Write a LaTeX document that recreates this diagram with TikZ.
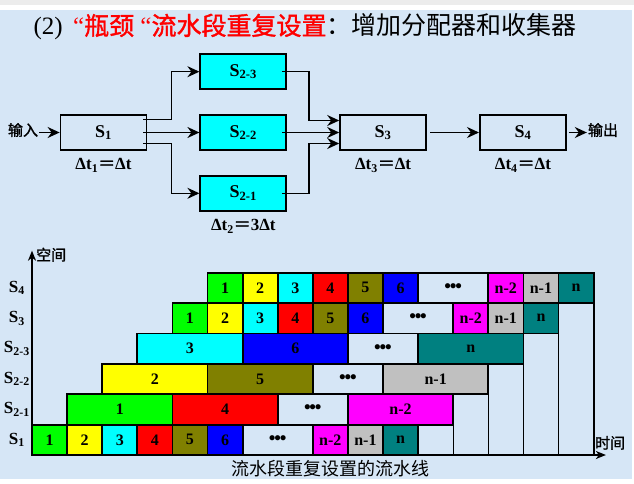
\documentclass[tikz,border=0pt]{standalone}
\usepackage{xcolor}
\usepackage{tikz}
\usepackage{amsmath}
\usepackage{fontspec}
\setmainfont{Liberation Serif}
\newfontfamily\cjk[AutoFakeBold=1.5]{Noto Sans CJK SC}
\usetikzlibrary{positioning, arrows.meta}

\definecolor{bgblue}{RGB}{214,230,246}
\definecolor{bgtop}{RGB}{236,236,236}
\definecolor{greenbox}{RGB}{0,255,0}
\definecolor{yellowbox}{RGB}{255,255,0}
\definecolor{cyanbox}{RGB}{0,255,255}
\definecolor{redbox}{RGB}{255,0,0}
\definecolor{olivebox}{RGB}{128,128,0}
\definecolor{bluebox}{RGB}{0,0,255}
\definecolor{magentabox}{RGB}{255,0,255}
\definecolor{graybox}{RGB}{192,192,192}
\definecolor{tealbox}{RGB}{0,128,128}
\definecolor{titlered}{RGB}{255,0,0}

\newcommand{\seg}[1]{\textbf{S}$_{\textbf{#1}}$}
\newcommand{\dt}[2]{\textbf{Δt$_{\textbf{#1}}${\cjk ＝}#2Δt}}
\newcommand{\more}{{\fontsize{19}{19}\selectfont\textbf{•\kern-1.2pt•\kern-1.2pt•}}}

\begin{document}
\begin{tikzpicture}[
    x=1pt, y=-1pt,
    stage/.style={draw, line width=1.8pt, minimum width=86pt, minimum height=35pt,
      inner sep=0pt, font=\fontsize{18}{18}\selectfont},
    dup/.style={stage, fill=cyanbox},
    flow/.style={line width=1.6pt, -{Stealth[length=12pt, width=11pt, inset=4pt]}},
    dtlabel/.style={below=4pt, font=\fontsize{17}{17}\selectfont},
    cjklabel/.style={inner sep=1pt, font=\cjk\bfseries\fontsize{15}{15}\selectfont},
    cell/.style={draw, line width=1.8pt},
    num/.style={font=\bfseries\fontsize{16}{16}\selectfont},
    tline/.style={line width=0.8pt},
    axis/.style={line width=1.6pt, -{Stealth[length=10pt, width=8pt, inset=3pt]}},
    rowlabel/.style={font=\fontsize{17}{17}\selectfont},
    node distance=24pt and 52pt,
  ]
  \useasboundingbox (0,0) rectangle (634,484);
  \fill[white] (0,0) rectangle (634,484);
  \fill[bgtop] (0,0) rectangle (634,5);
  \fill[bgblue] (0,10) rectangle (632,479);

  \node[anchor=west, font=\fontsize{25}{25}\selectfont] (title) at (30,27)
    {(2)\, \textcolor{titlered}{“{\cjk\bfseries 瓶颈} “{\cjk\bfseries 流水段重复设置}}{\cjk ：增加分配器和收集器}};

  % pipeline with the bottleneck stage repeated
  \node[stage] (S1) at (103.5,132.5) {\seg{1}};
  \node[dup, right=of S1] (S22) {\seg{2-2}};
  \node[dup, above=of S22] (S23) {\seg{2-3}};
  \node[dup, below=of S22] (S21) {\seg{2-1}};
  \node[stage, right=of S22] (S3) {\seg{3}};
  \node[stage, right=of S3] (S4) {\seg{4}};

  \node[dtlabel] (d1) at (S1.south) {\dt{1}{}};
  \node[dtlabel] (d2) at (S21.south) {\dt{2}{3}};
  \node[dtlabel] (d3) at (S3.south) {\dt{3}{}};
  \node[dtlabel] (d4) at (S4.south) {\dt{4}{}};

  \node[cjklabel] (in) at (23,130) {输入};
  \node[cjklabel] (out) at (603,130) {输出};

  \draw[flow] (in.east |- S1.west) -- (S1.west);
  \draw[flow] ([xshift=-4pt,yshift=13pt]S1.east) -- ++(28pt,0) |- (S23.west);
  \draw[flow] ([xshift=-4pt]S1.east) -- (S22.west);
  \draw[flow] ([xshift=-4pt,yshift=-11pt]S1.east) -- ++(28pt,0) |- (S21.west);
  \draw[flow] ([xshift=-5pt]S23.east) -- ++(27pt,0) |- ([yshift=12pt]S3.west);
  \draw[flow] ([xshift=-5pt]S22.east) -- (S3.west);
  \draw[flow] ([xshift=-5pt]S21.east) -- ++(27pt,0) |- ([yshift=-11pt]S3.west);
  \draw[flow] ([xshift=3pt]S3.east) -- (S4.west);
  \draw[flow] ([xshift=2pt]S4.east) -- (out.west |- S4.east);

  % space-time chart
  \begin{scope}[shift={(32,455)}, x=35.1pt, y=30.4pt]
    \foreach \c/\h in {12/1, 13/2, 14/3, 15/4}
      \draw[tline] (\c,0) -- (\c,\h);
    \draw[cell] (16,0) -- (16,5);

    \foreach \r/\row in {
        0/{0/1/greenbox/1, 1/2/yellowbox/2, 2/3/cyanbox/3, 3/4/redbox/4, 4/5/olivebox/5, 5/6/bluebox/6,
           6/8/none/\more, 8/9/magentabox/n-2, 9/10/graybox/n-1, 10/11/tealbox/n},
        1/{1/4/greenbox/1, 4/7/redbox/4, 7/9/none/\more, 9/12/magentabox/n-2},
        2/{2/5/yellowbox/2, 5/8/olivebox/5, 8/10/none/\more, 10/13/graybox/n-1},
        3/{3/6/cyanbox/3, 6/9/bluebox/6, 9/11/none/\more, 11/14/tealbox/n},
        4/{4/5/greenbox/1, 5/6/yellowbox/2, 6/7/cyanbox/3, 7/8/redbox/4, 8/9/olivebox/5, 9/10/bluebox/6,
           10/12/none/\more, 12/13/magentabox/n-2, 13/14/graybox/n-1, 14/15/tealbox/n},
        5/{5/6/greenbox/1, 6/7/yellowbox/2, 7/8/cyanbox/3, 8/9/redbox/4, 9/10/olivebox/5, 10/11/bluebox/6,
           11/13/none/\more, 13/14/magentabox/n-2, 14/15/graybox/n-1, 15/16/tealbox/n}}
      \foreach \a/\b/\col/\txt in \row
        \draw[cell, fill=\col] (\a,\r) rectangle (\b,\r+1)
          node[midway, num] (c\r-\a) {\txt};

    \foreach \r/\s in {0/1, 1/2-1, 2/2-2, 3/2-3, 4/3, 5/4}
      \node[rowlabel] (l\r) at (-0.43,\r+0.5) {\seg{\s}};

    \coordinate (o) at (0,0);
    \coordinate (ytop) at (0,6.72);
    \coordinate (xend) at (16.35,0);
    \draw[axis] (o) -- (ytop);
    \draw[axis] (o) -- (xend);
    \node[cjklabel, anchor=west, xshift=3pt, yshift=-4pt] (ylab) at (ytop) {空间};
    \node[cjklabel, anchor=south west, xshift=-12pt, yshift=4pt] (xlab) at (xend) {时间};
    \node[font=\cjk\fontsize{18}{18}\selectfont] (cap) at (8.49,-0.46) {流水段重复设置的流水线};
  \end{scope}
\end{tikzpicture}
\end{document}
